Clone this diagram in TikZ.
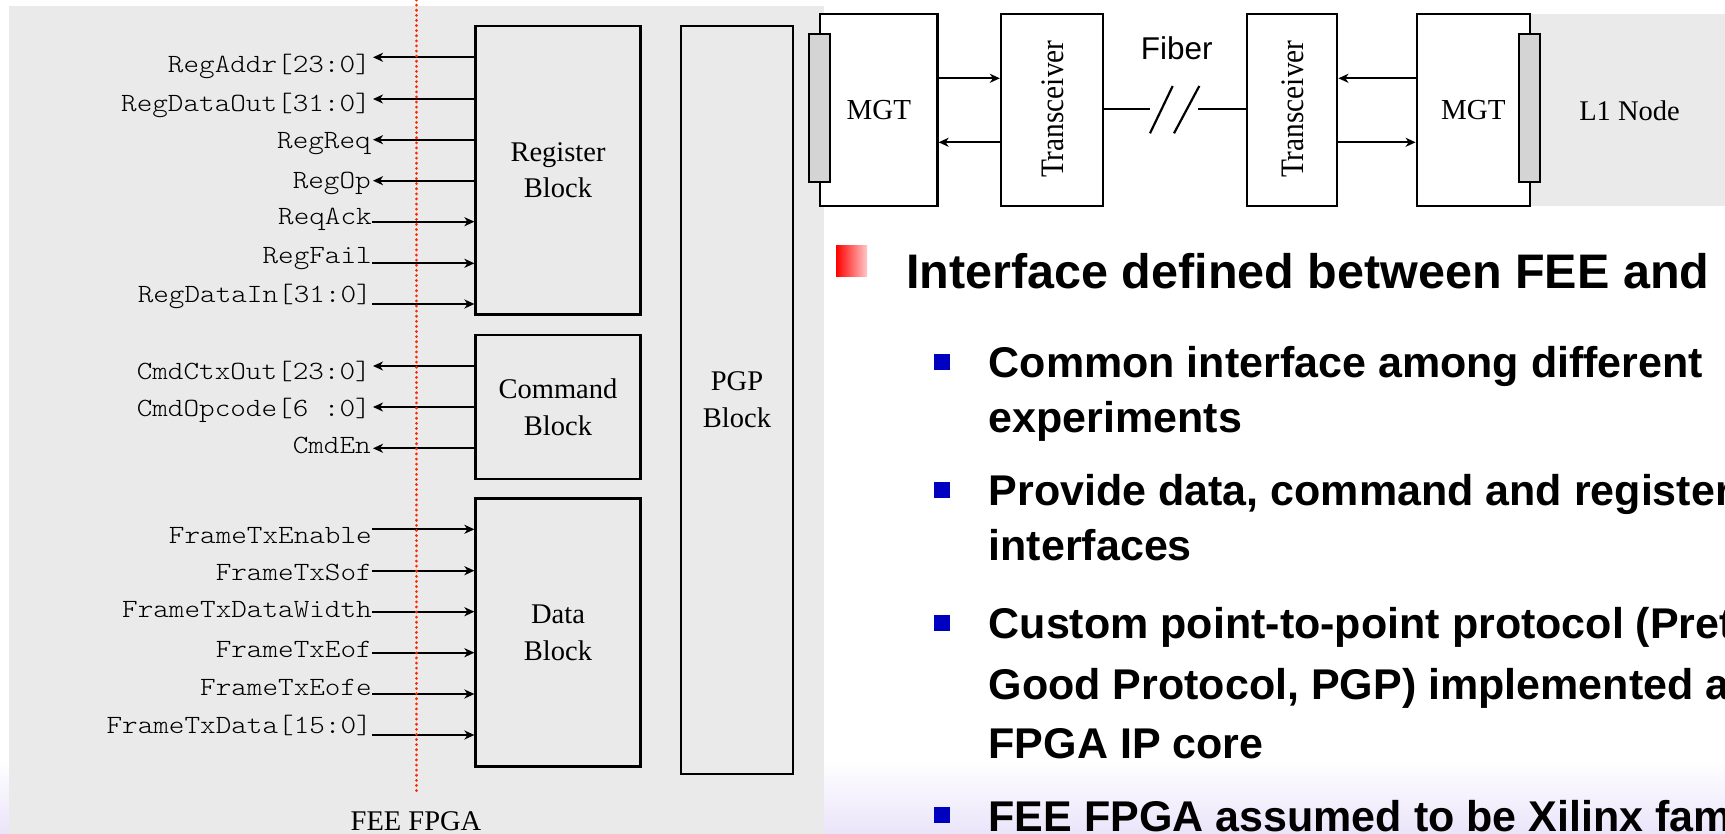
\documentclass[tikz,border=0pt]{standalone}
\usepackage{fontspec}
\setmainfont{Liberation Serif}
\newfontfamily\monof[FakeStretch=1.13]{lmmonolt10-regular.otf}
\newfontfamily\sansf{Liberation Sans}
\usetikzlibrary{arrows.meta}
\definecolor{panelgray}{RGB}{234,234,234}
\definecolor{bargray}{RGB}{212,212,212}
\definecolor{lav}{RGB}{234,228,250}
\definecolor{dotred}{RGB}{255,40,0}
\definecolor{bulletblue}{RGB}{0,0,192}
\begin{document}
\begin{tikzpicture}[x=1pt,y=-1pt,
  blk/.style={draw,line width=2.5pt,inner sep=0pt,align=center,
    font=\fontsize{28.5}{36.7}\selectfont},
  tbox/.style={draw,fill=white,line width=2.2pt,inner sep=0pt,
    font=\fontsize{29}{34}\selectfont},
  bar/.style={draw,fill=bargray,line width=2.2pt},
  sig/.style={line width=2.3pt},
  tl/.style={line width=2.2pt},
  tip/.style={-{Stealth[length=10pt,width=9pt,inset=3pt]}},
  lbl/.style={font=\monof\fontsize{26.3}{26}\selectfont,anchor=base east,inner sep=0pt},
  serif/.style={font=\fontsize{28.5}{34}\selectfont,inner sep=0pt},
  head/.style={font=\sansf\bfseries\fontsize{48.5}{58}\selectfont,anchor=base west,inner sep=0pt},
  sub/.style={font=\sansf\bfseries\fontsize{43}{52}\selectfont,anchor=base west,inner sep=0pt}]
\useasboundingbox (0,0) rectangle (1725,834);
\clip (0,0) rectangle (1725,834);
% slide background
\fill[white] (0,0) rectangle (1725,834);
\shade[top color=white,bottom color=lav] (0,760) rectangle (1725,834);
\fill[panelgray] (9,6) rectangle (823.6,834);
\fill[panelgray] (1530,14) rectangle (1725,205.7);

% ---------- FEE FPGA blocks ----------
\node[blk,minimum width=164.7pt,minimum height=288.3pt] (reg) at (558,170.2) {Register\\Block};
\node[blk,minimum width=164.7pt,minimum height=144pt] (cmd) at (558,407) {Command\\Block};
\node[blk,minimum width=164.7pt,minimum height=268.4pt] (dat) at (558,632.5) {Data\\Block};
\node[blk,minimum width=112pt,minimum height=748pt] (pgp) at (737,400) {PGP\\Block};

% outputs (arrow points away from block)
\foreach \nm/\t/\ty/\ly/\b in {
  a/{RegAddr[23:0]}/72.7/57.3/reg,
  b/{RegDataOut[31:0]}/111.7/99/reg,
  c/{RegReq}/148.3/139.7/reg,
  d/{RegOp}/188.3/180.7/reg,
  h/{CmdCtxOut[23:0]}/379.3/366/cmd,
  i/{CmdOpcode[6 :0]}/416.7/407/cmd,
  j/{CmdEn}/453.3/448.3/cmd}{
  \node[lbl] (l\nm) at (371,\ty) {\t};
  \coordinate (p\nm) at (373,\ly);
  \draw[sig,tip] (p\nm -| \b.west) -- (p\nm);
}
% inputs (arrow points into block)
\foreach \nm/\t/\ty/\ly/\b in {
  e/{ReqAck}/225/221.7/reg,
  f/{RegFail}/263.3/263.3/reg,
  g/{RegDataIn[31:0]}/302.7/304/reg,
  k/{FrameTxEnable}/543.3/529.3/dat,
  l/{FrameTxSof}/580.7/570.7/dat,
  m/{FrameTxDataWidth}/617.3/611.7/dat,
  n/{FrameTxEof}/657.3/652.7/dat,
  o/{FrameTxEofe}/695.7/694/dat,
  q/{FrameTxData[15:0]}/733.3/735/dat}{
  \node[lbl] (l\nm) at (372,\ty) {\t};
  \coordinate (p\nm) at (372,\ly);
  \draw[sig,tip] (p\nm) -- (p\nm -| \b.west);
}
% boundary
\coordinate (redtop) at (416.7,0);
\coordinate (redbot) at (416.7,795);
\draw[dotred,line width=3pt,line cap=round,dash pattern=on 0.1pt off 5pt] (redtop) -- (redbot);
\node[serif,anchor=base] (fee) at (416,830) {FEE FPGA};

% ---------- link diagram ----------
\node[tbox,minimum width=117.5pt,minimum height=192pt] (mgtA) at (878.75,110) {MGT};
\draw[bar] (809,34) rectangle (830,182.3);
\node[tbox,minimum width=101.7pt,minimum height=192pt] (t1) at (1051.8,110) {};
\node[serif,rotate=90] (t1txt) at (1052.5,109.2) {\scalebox{1.03}[1.15]{Transceiver}};
\node[tbox,minimum width=90.6pt,minimum height=192pt] (t2) at (1292,110) {};
\node[serif,rotate=90] (t2txt) at (1292.8,109.2) {\scalebox{1.03}[1.15]{Transceiver}};
\node[tbox,minimum width=113.3pt,minimum height=192pt] (mgtB) at (1473.35,110) {MGT};
\draw[bar] (1519,34) rectangle (1540,182.3);
\node[serif,anchor=base] (l1) at (1629.5,120.7) {L1 Node};
\node[font=\sansf\fontsize{31.5}{36}\selectfont,anchor=base,inner sep=0pt] (fiber) at (1176.7,59.3) {Fiber};

\coordinate (rowU) at (0,78.3);
\coordinate (rowL) at (0,142.3);
\coordinate (rowF) at (0,109.3);
\draw[tl,tip] (mgtA.east |- rowU) -- (t1.west |- rowU);
\draw[tl,tip] (t1.west |- rowL) -- (mgtA.east |- rowL);
\draw[tl,tip] (mgtB.west |- rowU) -- (t2.east |- rowU);
\draw[tl,tip] (t2.east |- rowL) -- (mgtB.west |- rowL);
\coordinate (fa) at (1150,109.3);
\coordinate (fb) at (1198.3,109.3);
\draw[tl] (t1.east |- rowF) -- (fa);
\draw[tl] (fb) -- (t2.west |- rowF);
\draw[tl] (1150,133.3) -- (1172.7,86);
\draw[tl] (1174,133.3) -- (1199.3,86);

% ---------- slide text ----------
\shade[left color=red,right color=red!22] (836,246) rectangle (867,277);
\node[head] (h1) at (906,288.3) {Interface defined between FEE and};
\foreach \yc in {361.9,489.6,623,815}{
  \fill[bulletblue] (934,\yc-8) rectangle (950,\yc+8);
}
\node[sub] (s1) at (988.5,377.3) {Common interface among different};
\node[sub] (s2) at (988.5,432) {experiments};
\node[sub] (s3) at (988.5,505) {Provide data, command and register};
\node[sub] (s4) at (988.5,560) {interfaces};
\node[sub] (s5) at (988.5,638.5) {Custom point-to-point protocol (Pretty};
\node[sub] (s6) at (988.5,699.5) {Good Protocol, PGP) implemented as};
\node[sub] (s7) at (988.5,758) {FPGA IP core};
\node[sub] (s8) at (988.5,831) {FEE FPGA assumed to be Xilinx family};
\end{tikzpicture}
\end{document}
